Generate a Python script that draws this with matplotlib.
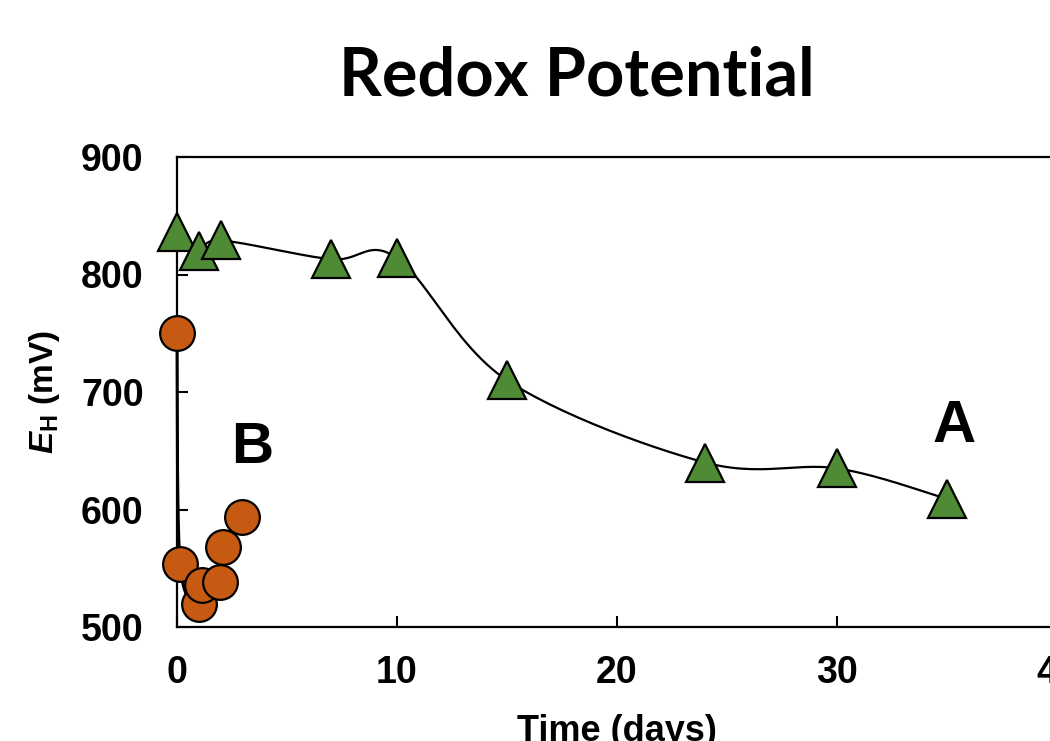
import numpy as np
import matplotlib
matplotlib.use('Agg')
import matplotlib.pyplot as plt

# data
days_a = [0, 1, 2, 7, 10, 15, 24, 30, 35]
eh_a = [836, 820, 829, 813, 814, 710, 640, 635, 609]

days_b = [0, 0.14, 1.0, 1.14, 1.95, 2.1, 2.95]
eh_b = [750, 554, 520, 536, 538, 568, 594]

x_ticks = [0, 10, 20, 30, 40]
y_ticks = [500, 600, 700, 800, 900]

GREEN = '#4f8a35'
ORANGE = '#c65a12'


# smoothed line like a spreadsheet "smoothed line" (Catmull-Rom through the points)
def smooth(xs, ys, n=30):
    pts = np.column_stack([xs, ys]).astype(float)
    pts = np.vstack([pts[0], pts, pts[-1]])
    out = []
    for i in range(1, len(pts) - 2):
        p0, p1, p2, p3 = pts[i - 1], pts[i], pts[i + 1], pts[i + 2]
        c1 = p1 + (p2 - p0) / 6
        c2 = p2 - (p3 - p1) / 6
        t = np.linspace(0, 1, n)[:, None]
        seg = ((1 - t) ** 3) * p1 + 3 * ((1 - t) ** 2) * t * c1 + 3 * (1 - t) * t ** 2 * c2 + t ** 3 * p2
        out.append(seg)
    out = np.vstack(out)
    return out[:, 0], out[:, 1]


plt.rcParams['font.family'] = ['Liberation Sans', 'DejaVu Sans']
plt.rcParams['mathtext.fontset'] = 'custom'
plt.rcParams['mathtext.it'] = 'Liberation Sans:italic:bold'
plt.rcParams['mathtext.rm'] = 'Liberation Sans:bold'

fig = plt.figure(figsize=(10.5, 7.41), dpi=100)
ax = fig.add_axes([177 / 1050, (741 - 627) / 741, 880 / 1050, 470 / 741])

sx, sy = smooth(days_a, eh_a)
ax.plot(sx, sy, color='black', lw=1.6, zorder=2)
ax.plot(days_a, eh_a, linestyle='none', marker='^', ms=27, mfc=GREEN, mec='black',
        mew=1.6, zorder=3, clip_on=False)

bx, by = smooth(days_b, eh_b)
ax.plot(bx, by, color='black', lw=2.2, zorder=2, clip_on=False)
ax.plot(days_b, eh_b, linestyle='none', marker='o', ms=25, mfc=ORANGE, mec='black',
        mew=1.6, zorder=4, clip_on=False)

ax.set_xlim(0, 40)
ax.set_ylim(500, 900)
ax.set_xticks(x_ticks)
ax.set_yticks(y_ticks)
ax.tick_params(direction='in', length=8, width=1.5, labelsize=27, pad=20)
ax.tick_params(axis='y', pad=24)
for lab in ax.get_xticklabels() + ax.get_yticklabels():
    lab.set_fontweight('bold')
for sp in ax.spines.values():
    sp.set_linewidth(1.6)

ax.set_xlabel('Time (days)', fontsize=26, fontweight='bold', labelpad=17)
ax.set_ylabel(r'$E_\mathrm{H}$ (mV)', fontsize=24, fontweight='bold', labelpad=14)

ax.text(35.3, 671, 'A', fontsize=43, fontweight='bold', ha='center', va='center')
ax.text(3.4, 652, 'B', fontsize=42, fontweight='bold', ha='center', va='center')

fig.text(577 / 1050, 1 - 76 / 741, 'Redox Potential', fontsize=48, fontweight='bold',
         family=['Lato', 'DejaVu Sans'], ha='center', va='center')

fig.savefig('out.png', dpi=100)
